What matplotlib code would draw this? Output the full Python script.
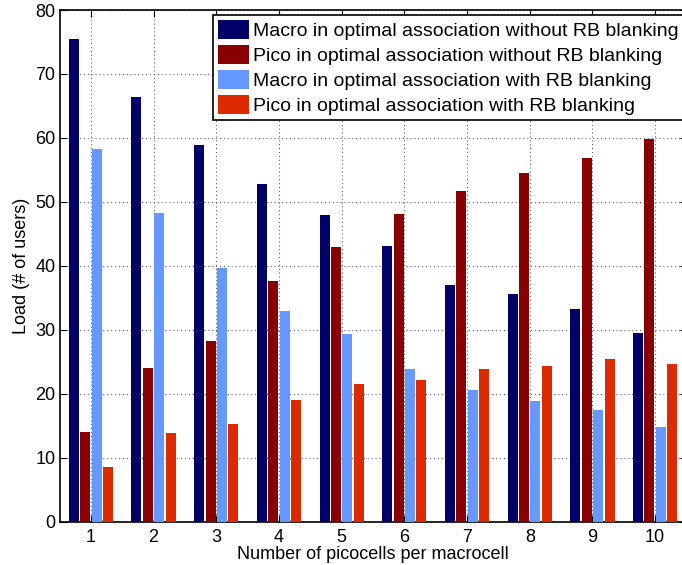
import matplotlib
matplotlib.use("Agg")
import matplotlib.pyplot as plt
import numpy as np

plt.rcParams['font.family'] = ['Liberation Sans', 'DejaVu Sans']

picocells = [1, 2, 3, 4, 5, 6, 7, 8, 9, 10]
macro_without = [75.4, 66.4, 58.9, 52.8, 47.9, 43.1, 37.0, 35.6, 33.2, 29.5]
pico_without = [14.0, 24.1, 28.2, 37.6, 42.9, 48.1, 51.7, 54.5, 56.8, 59.8]
macro_with = [58.2, 48.2, 39.6, 32.9, 29.3, 23.9, 20.6, 18.8, 17.4, 14.8]
pico_with = [8.55, 13.9, 15.3, 19.0, 21.6, 22.1, 23.9, 24.3, 25.4, 24.6]

labels = ["Macro in optimal association without RB blanking",
          "Pico in optimal association without RB blanking",
          "Macro in optimal association with RB blanking",
          "Pico in optimal association with RB blanking"]
colors = ["#000066", "#880000", "#6699FF", "#DD2A00"]

W, H = 682, 565
fig = plt.figure(figsize=(W / 100, H / 100), dpi=100)
ax = fig.add_axes([59.5 / W, 1 - 521.7 / H, 627 / W, 511.7 / H])

x = np.array(picocells, dtype=float)
series = [macro_without, pico_without, macro_with, pico_with]
n = len(series)
gw = min(0.8, n / (n + 1.5))
step = gw / n
bw = step * 0.87
for i, (vals, c, lab) in enumerate(zip(series, colors, labels)):
    off = (i - (n - 1) / 2) * step
    ax.bar(x + off, vals, width=bw, color=c, label=lab, zorder=3)

ax.set_xlim(0.5, 10.5)
ax.set_ylim(0, 80)
ax.set_xticks(picocells)
ax.set_yticks(np.arange(0, 81, 10))
ax.tick_params(direction='in', top=True, right=True, labelsize=13, length=5)
ax.tick_params(axis='x', pad=5)
ax.tick_params(axis='y', pad=3)
ax.grid(True, linestyle=(0, (1, 2.5)), color='0.4', linewidth=0.8, zorder=0)
ax.set_axisbelow(True)
for s in ax.spines.values():
    s.set_linewidth(1.2)
ax.set_xlabel("Number of picocells per macrocell", fontsize=13, labelpad=0)
ax.set_ylabel("Load (# of users)", fontsize=13, labelpad=4)

leg = ax.legend(loc='upper left', bbox_to_anchor=(213 / W, 1 - 15 / H),
                bbox_transform=fig.transFigure, fontsize=14, fancybox=False,
                framealpha=1, edgecolor='black', borderaxespad=0,
                handlelength=1.6, handleheight=1.15, handletextpad=0.2,
                labelspacing=0.25, borderpad=0.25)
leg.get_frame().set_linewidth(1.2)

fig.savefig("out.png", dpi=100)
